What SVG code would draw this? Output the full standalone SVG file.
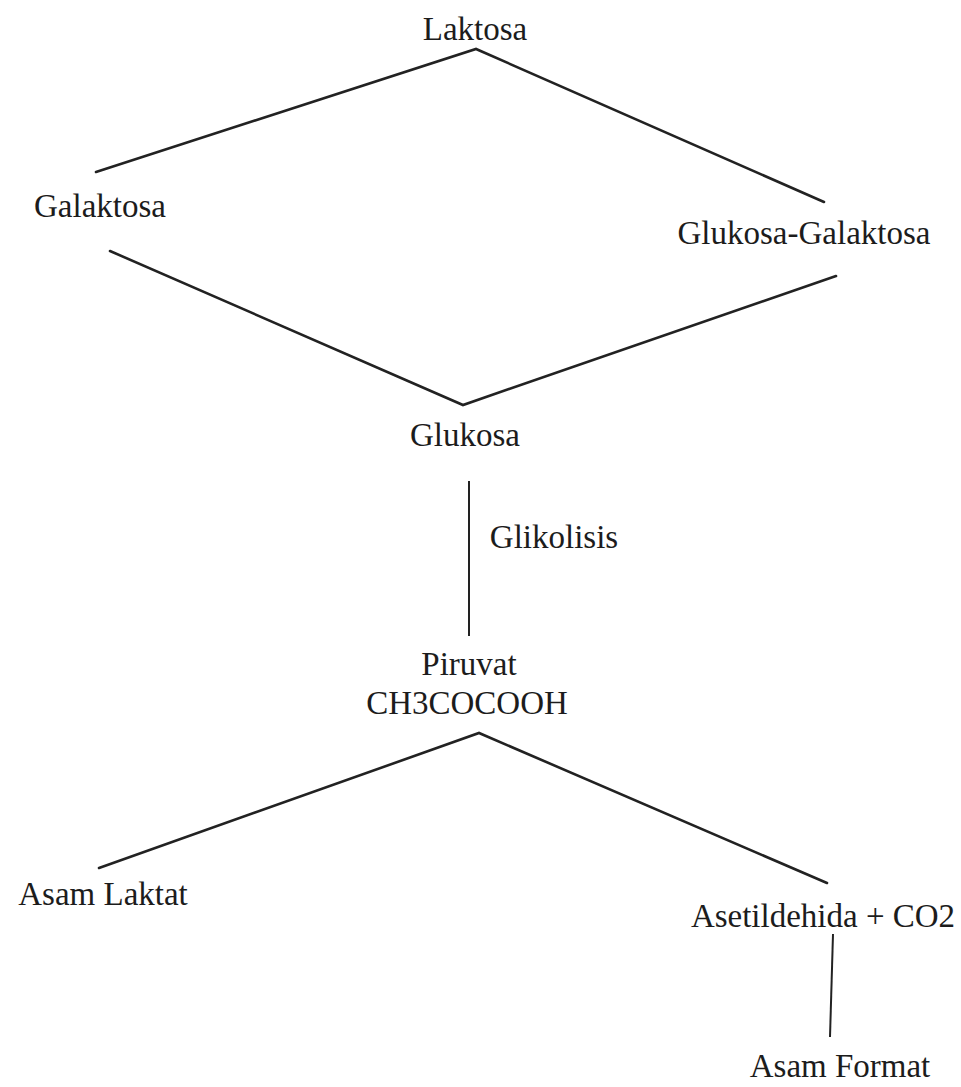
<svg xmlns="http://www.w3.org/2000/svg" width="961" height="1087" viewBox="0 0 961 1087">
<style>
.t{font-family:"Liberation Serif","Times New Roman",serif;font-size:33px;fill:#1c1c1c;text-anchor:middle}
.l{stroke:#222;stroke-width:2.6;fill:none;stroke-linecap:round}
.v{stroke:#222;stroke-width:2;fill:none}
</style>
<rect width="961" height="1087" fill="#fff"/>
<g id="connectors">
<polyline class="l" points="96,172 476,49 824,202"/>
<polyline class="l" points="110,251 463,405 836,276"/>
<polyline class="l" points="99,868 479,733 827,883"/>
<line class="v" x1="469" y1="481" x2="469" y2="636"/>
<line class="v" x1="833" y1="934" x2="830" y2="1037"/>
</g>
<g id="laktosa"><text class="t" x="475" y="40">Laktosa</text></g>
<g id="galaktosa"><text class="t" x="100" y="217">Galaktosa</text></g>
<g id="glukosa-galaktosa"><text class="t" x="804" y="244">Glukosa-Galaktosa</text></g>
<g id="glukosa"><text class="t" x="465" y="446">Glukosa</text></g>
<g id="glikolisis"><text class="t" x="554" y="548">Glikolisis</text></g>
<g id="piruvat"><text class="t" x="469" y="675">Piruvat</text><text class="t" x="467" y="714">CH3COCOOH</text></g>
<g id="asam-laktat"><text class="t" x="103" y="905">Asam Laktat</text></g>
<g id="asetildehida"><text class="t" x="823" y="927">Asetildehida + CO2</text></g>
<g id="asam-format"><text class="t" x="840" y="1077">Asam Format</text></g>
</svg>
